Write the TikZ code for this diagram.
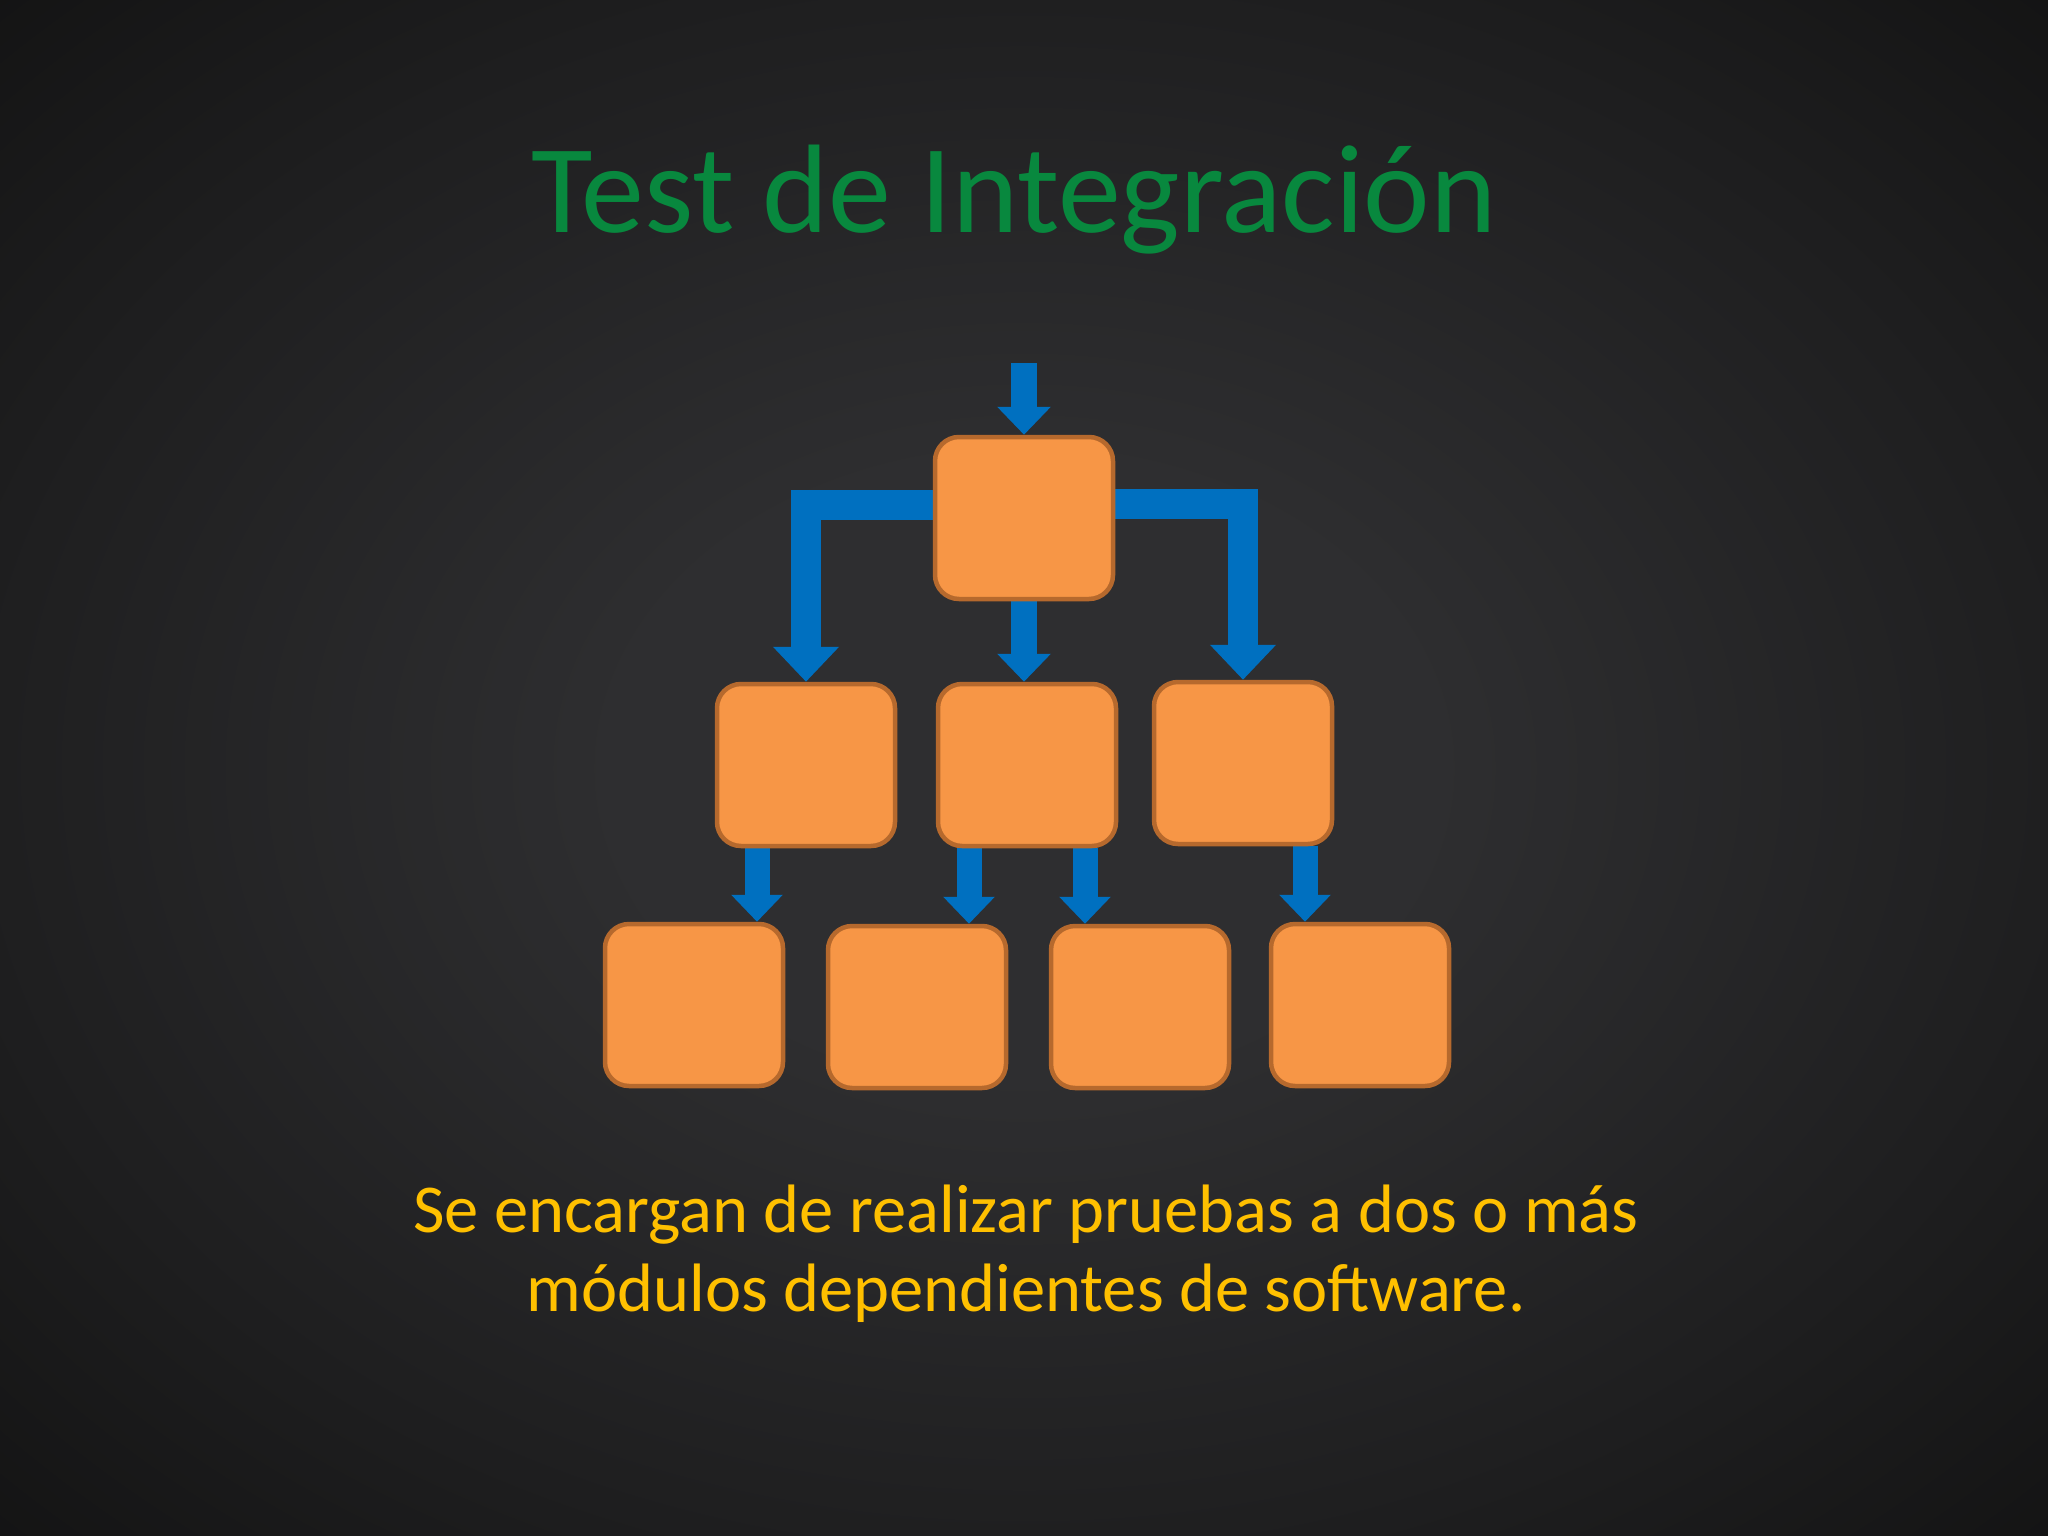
\documentclass[tikz,border=0pt]{standalone}
\usepackage{fontspec}
\setmainfont{Carlito}
\usetikzlibrary{arrows.meta}
\definecolor{bgin}{RGB}{46,46,48}
\definecolor{bgmid}{RGB}{30,30,31}
\definecolor{bgout}{RGB}{15,15,15}
\definecolor{titlegreen}{RGB}{8,136,62}
\definecolor{textgold}{RGB}{255,192,0}
\definecolor{boxfill}{RGB}{247,150,70}
\definecolor{boxline}{RGB}{182,105,45}
\definecolor{flowblue}{RGB}{0,112,192}
\pgfdeclarelayer{bg}
\pgfsetlayers{bg,main}
\pgfdeclareradialshading{slidebg}{\pgfpoint{0bp}{0bp}}{color(0bp)=(bgin); color(10bp)=(bgin); color(26bp)=(bgmid); color(40bp)=(bgout); color(50bp)=(bgout)}
\tikzset{
  box/.style={draw=boxline, line width=4.5pt, fill=boxfill, rounded corners=24pt,
    minimum width=178pt, minimum height=162pt, inner sep=0pt},
  conn/.style={draw=flowblue, line width=26pt, line join=miter,
    -{Triangle[width=52pt,length=28pt]}},
  wideconn/.style={draw=flowblue, line width=30pt, line join=miter,
    -{Triangle[width=64pt,length=35pt]}},
  smallconn/.style={draw=flowblue, line width=25pt,
    -{Triangle[width=50pt,length=27pt]}},
  titletext/.style={text=titlegreen, font=\fontsize{126}{150}\selectfont, anchor=base, inner sep=0pt},
  bodytext/.style={text=textgold, font=\fontsize{68.5}{80}\selectfont, anchor=base, inner sep=0pt}
}
\begin{document}
\begin{tikzpicture}[x=1pt,y=-1pt]
\useasboundingbox (0,0) rectangle (2048,1536);
\begin{pgfonlayer}{bg}
\shade[shading=slidebg] (0,0) rectangle (2048,1536);
\end{pgfonlayer}

\node[titletext] (title) at (1014,232) {Test de Integración};

\node[box] (top) at (1024,518) {};
\node[box] (A) at (806,765) {};
\node[box] (B) at (1027,765) {};
\node[box] (C) at (1243,763) {};
\node[box] (D) at (694,1005) {};
\node[box] (E) at (917,1007) {};
\node[box] (F) at (1140,1007) {};
\node[box] (G) at (1360,1005) {};

\coordinate (in) at (1024,363);

\begin{pgfonlayer}{bg}
\draw[conn] (in) -- (top.north);
\draw[wideconn] ([yshift=13pt]top.west) -| (A.north);
\draw[wideconn] ([yshift=14pt]top.east) -| (C.north);
\draw[conn] (top.south) -- (top.south |- B.north);
\draw[smallconn] ([xshift=-49pt]A.south) -- ([xshift=-49pt]A.south |- D.north);
\draw[smallconn] ([xshift=-58pt]B.south) -- ([xshift=-58pt]B.south |- E.north);
\draw[smallconn] ([xshift=58pt]B.south) -- ([xshift=58pt]B.south |- F.north);
\draw[smallconn] ([xshift=62pt]C.south) -- ([xshift=62pt]C.south |- G.north);
\end{pgfonlayer}

\node[bodytext] (desc1) at (1026,1232) {Se encargan de realizar pruebas a dos o más};
\node[bodytext] (desc2) at (1026,1311) {módulos dependientes de software.};
\end{tikzpicture}
\end{document}
